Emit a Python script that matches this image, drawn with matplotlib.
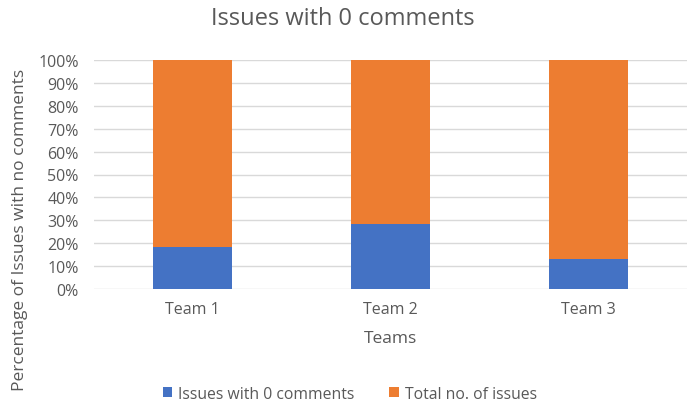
import matplotlib
matplotlib.use("Agg")
import matplotlib.pyplot as plt

teams = ["Team 1", "Team 2", "Team 3"]
zero_comments_pct = [18.4, 28.3, 13.0]
total_issues_pct = [81.6, 71.7, 87.0]
y_ticks = [0, 10, 20, 30, 40, 50, 60, 70, 80, 90, 100]

plt.rcParams['font.family'] = ['Open Sans', 'DejaVu Sans']
gray = '#595959'

fig = plt.figure(figsize=(6.96, 4.14), dpi=100)
ax = fig.add_axes([94/696, 1-290/414, 593/696, 229/414])

x = list(range(len(teams)))
ax.bar(x, zero_comments_pct, width=0.4, color='#4472C4', label='Issues with 0 comments', zorder=3)
ax.bar(x, total_issues_pct, width=0.4, bottom=zero_comments_pct, color='#ED7D31',
       label='Total no. of issues', zorder=3)

ax.set_xlim(-0.5, 2.5)
ax.set_ylim(0, 100)
ax.set_yticks(y_ticks)
ax.set_yticklabels([f"{t}%" for t in y_ticks])
ax.set_xticks(x)
ax.set_xticklabels(teams)
ax.grid(axis='y', color='#d9d9d9', linewidth=1.0, zorder=0)
for s in ax.spines.values():
    s.set_visible(False)
ax.tick_params(axis='both', length=0, colors=gray, labelsize=11.5)
ax.tick_params(axis='y', pad=11)
ax.tick_params(axis='x', pad=9)

ax.set_xlabel("Teams", color=gray, fontsize=12.5, labelpad=9)
fig.text(20/696, 1-230/414, "Percentage of Issues with no comments", rotation=90,
         ha='center', va='center', color=gray, fontsize=12.5)
fig.text(343/696, 1-19/414, "Issues with 0 comments", ha='center', va='center', color=gray, fontsize=17)

fig.legend(loc='center', bbox_to_anchor=(350/696, 1-395/414), ncol=2, frameon=False,
           fontsize=11.3, labelcolor=gray, handlelength=0.6, handleheight=0.6,
           handletextpad=0.4, columnspacing=2.2)

fig.savefig("out.png", dpi=100)
